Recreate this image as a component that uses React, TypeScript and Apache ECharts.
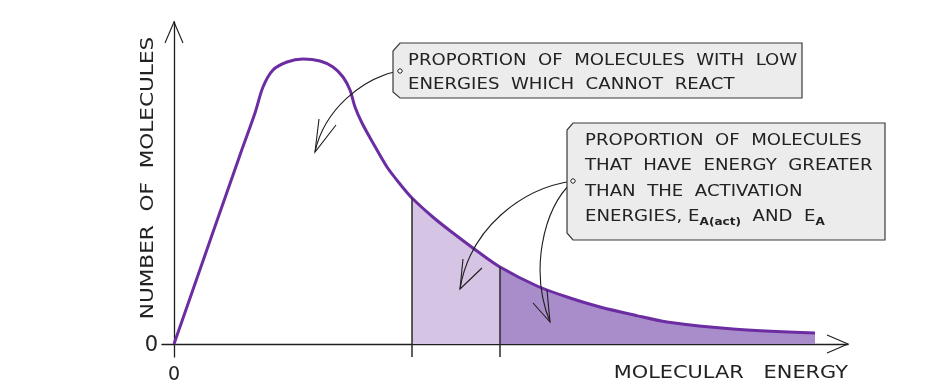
import React, { useEffect, useRef } from "react";
import * as echarts from "echarts";

// Molecular energy (x) and number of molecules (y)
const energy = [0, 66, 81, 89, 99, 113, 129, 146, 159, 169, 176, 181, 188, 199, 213, 226, 238, 260, 279, 303, 326, 363, 396, 426, 460, 493, 559, 641];
const molecules = [0, 189, 231, 257, 274, 282, 285, 283, 277, 267, 254, 237, 221, 201, 177, 160, 146, 126, 111, 93, 77, 58, 46, 37, 29, 22, 15, 11];
// Activation energies: catalysed E_A(act) and uncatalysed E_A
const activationEnergies = [238, 326];
const tickValues = [0];

const yName = "NUMBER  OF  MOLECULES";
const xName = "MOLECULAR   ENERGY";
const note1 = ["PROPORTION  OF  MOLECULES  WITH  LOW", "ENERGIES  WHICH  CANNOT  REACT"];
const note2 = ["PROPORTION  OF  MOLECULES", "THAT  HAVE  ENERGY  GREATER", "THAN  THE  ACTIVATION", "ENERGIES, E{s|A(act)}  AND  E{s|A}"];

const FONT = "DejaVu Sans";
const INK = "#1e1e1e";

export default function App() {
  const ref = useRef<HTMLDivElement>(null);
  useEffect(() => {
    if (!ref.current) return;
    const chart = echarts.init(ref.current, null, { renderer: "svg" });
    const pts = energy.map((e, i) => [e, molecules[i]]);
    const yAt = (e: number) => molecules[energy.indexOf(e)];

    const arrowHead = (tip: number[], a: number[], b: number[]) => ({
      type: "polyline",
      z: 50,
      shape: { points: [a, tip, b] },
      style: { stroke: INK, lineWidth: 1.1, fill: "none" },
    });
    const curve = (p: number[]) => ({
      type: "bezierCurve",
      z: 50,
      shape: { x1: p[0], y1: p[1], cpx1: p[2], cpy1: p[3], cpx2: p[4], cpy2: p[5], x2: p[6], y2: p[7] },
      style: { stroke: INK, lineWidth: 1.1, fill: "none" },
    });
    const textStyleBase = { fill: "#222", fontFamily: FONT, fontSize: 15 };

    chart.setOption({
      animation: false,
      grid: { left: 162, right: 86, top: 22, bottom: 29, outerBoundsMode: "none", containLabel: false },
      xAxis: {
        type: "value",
        min: -12,
        max: 674,
        axisLine: { onZero: true, lineStyle: { color: INK, width: 1.3 } },
        axisTick: { show: false },
        splitLine: { show: false },
        axisLabel: { customValues: tickValues, margin: 6, fontSize: 19, color: "#222", fontFamily: FONT },
      },
      yAxis: {
        type: "value",
        min: -13,
        max: 322,
        axisLine: { onZero: true, lineStyle: { color: INK, width: 1.3 } },
        axisTick: { show: false },
        splitLine: { show: false },
        axisLabel: { customValues: tickValues, margin: 4, fontSize: 21, color: "#222", fontFamily: FONT },
      },
      visualMap: {
        show: false,
        type: "piecewise",
        dimension: 0,
        seriesIndex: 0,
        pieces: [
          { lt: activationEnergies[0], color: "rgba(255,255,255,0)" },
          { gte: activationEnergies[0], lt: activationEnergies[1], color: "#d5c4e3" },
          { gte: activationEnergies[1], color: "#a98dca" },
        ],
        outOfRange: { color: "rgba(255,255,255,0)" },
      },
      series: [
        {
          type: "line",
          data: pts,
          smooth: 0.3,
          showSymbol: false,
          lineStyle: { color: "#6b2da1", width: 3 },
          areaStyle: { opacity: 1 },
          z: 3,
          markLine: {
            silent: true,
            symbol: "none",
            label: { show: false },
            lineStyle: { color: "#2a2a2a", width: 1.5, type: "solid" },
            data: activationEnergies.map((e) => [{ coord: [e, yAt(e)] }, { coord: [e, -13] }]),
          },
        },
      ],
      graphic: [
        // axis arrowheads
        arrowHead([174, 22], [165, 43], [183, 43]),
        arrowHead([848, 344], [827, 335], [827, 353]),
        // axis names
        {
          type: "text",
          x: 147,
          y: 178,
          rotation: Math.PI / 2,
          scaleX: 1.2,
          style: { text: yName, align: "center", verticalAlign: "middle", fill: "#222", fontFamily: FONT, fontSize: 18 },
        },
        {
          type: "text",
          x: 848,
          y: 372,
          scaleX: 1.16,
          style: { text: xName, align: "right", verticalAlign: "middle", fill: "#222", fontFamily: FONT, fontSize: 18 },
        },
        // box 1
        {
          type: "polygon",
          z: 60,
          shape: { points: [[400, 43], [802, 43], [802, 98], [400, 98], [393, 92], [393, 51]] },
          style: { fill: "#ececec", stroke: "#3a3a3a", lineWidth: 1.2 },
        },
        ...note1.map((t, i) => ({
          type: "text",
          z: 61,
          x: 408,
          y: 60 + i * 24,
          scaleX: 1.21,
          style: { ...textStyleBase, text: t, verticalAlign: "middle" },
        })),
        { type: "circle", z: 62, shape: { cx: 400, cy: 71, r: 2.2 }, style: { fill: "#fff", stroke: INK, lineWidth: 1 } },
        // box 2
        {
          type: "polygon",
          z: 60,
          shape: { points: [[573, 123], [885, 123], [885, 240], [573, 240], [567, 233], [567, 130]] },
          style: { fill: "#ececec", stroke: "#3a3a3a", lineWidth: 1.2 },
        },
        ...note2.map((t, i) => ({
          type: "text",
          z: 61,
          x: 585,
          y: 140 + i * 25.5,
          scaleX: 1.21,
          style: {
            ...textStyleBase,
            text: t,
            verticalAlign: "middle",
            rich: { s: { fill: "#222", fontFamily: FONT, fontSize: 10, fontWeight: "bold", padding: [10, 0, 0, 0] } },
          },
        })),
        { type: "circle", z: 62, shape: { cx: 573, cy: 181, r: 2.2 }, style: { fill: "#fff", stroke: INK, lineWidth: 1 } },
        // pointer arrows
        curve([399, 71, 362, 78, 324, 110, 315, 152]),
        arrowHead([315, 152], [319, 119], [336, 125]),
        curve([573, 181, 522, 188, 470, 228, 460, 289]),
        arrowHead([460, 289], [463, 259], [482, 268]),
        curve([573, 181, 542, 210, 530, 272, 550, 322]),
        arrowHead([550, 322], [533, 303], [547, 290]),
      ],
    });
    return () => chart.dispose();
  }, []);
  return <div ref={ref} style={{ position: "fixed", left: 0, top: 0, width: 934, height: 386 }} />;
}
